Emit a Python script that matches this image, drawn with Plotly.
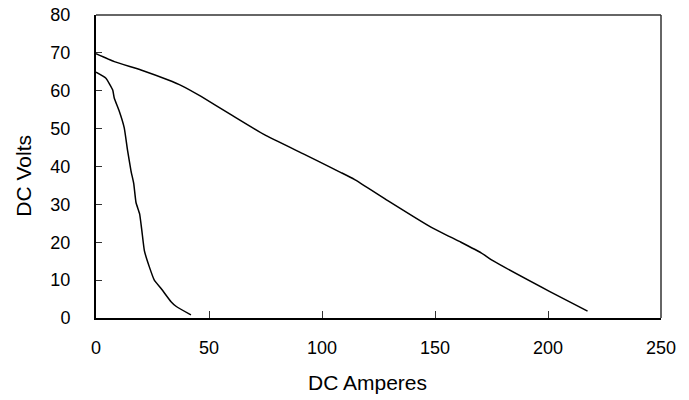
import plotly.graph_objects as go

# Curva de descarga larga
amps_long = [0, 8.1, 19.9, 31.7, 38.0, 46.5, 59.7, 74.5, 92.2, 104, 108.4, 114.3,
             129.1, 148.2, 161.5, 170.4, 176, 200.4, 217.5]
volts_long = [69.8, 67.7, 65.5, 62.9, 61.3, 58.5, 53.7, 48.4, 43.2, 39.7, 38.4, 36.6,
              31.0, 24.0, 20.0, 17.2, 15.0, 7.1, 1.8]

# Curva de descarga corta
amps_short = [0, 4.4, 7.4, 8.1, 10.3, 12.5, 14.0, 15.5, 16.7, 17.7, 19.3, 20.3, 21.4,
              23.6, 25.8, 28.8, 33.2, 35.4, 42.0]
volts_short = [64.9, 63.3, 60.2, 58.0, 54.6, 50.2, 44.1, 38.8, 35.5, 30.5, 27.5, 23.0, 17.8,
               13.5, 10.0, 7.8, 4.3, 3.1, 0.8]

x_ticks = [0, 50, 100, 150, 200, 250]
y_ticks = [0, 10, 20, 30, 40, 50, 60, 70, 80]

fig = go.Figure()
fig.add_trace(go.Scatter(x=amps_long, y=volts_long, mode="lines",
                         line=dict(color="black", width=1.5, shape="spline", smoothing=0.4)))
fig.add_trace(go.Scatter(x=amps_short, y=volts_short, mode="lines",
                         line=dict(color="black", width=1.5, shape="spline", smoothing=0.4)))

font = "Liberation Sans, Arial, Helvetica, sans-serif"

# la pagina tiene 8px de margen en el body, se compensa aqui
fig.update_layout(
    width=681, height=392,
    margin=dict(l=88, r=28, t=7, b=82),
    paper_bgcolor="white", plot_bgcolor="white",
    showlegend=False,
    font=dict(family=font, size=18, color="black"),
    xaxis=dict(
        range=[0, 250], tickvals=x_ticks, showgrid=False, zeroline=False,
        showline=True, linecolor="black", linewidth=2,
        ticks="inside", ticklen=7, tickwidth=1, tickcolor="#333",
        ticklabelstandoff=12, automargin=False, ticklabeloverflow="allow",
    ),
    yaxis=dict(
        range=[0, 80], tickvals=y_ticks, showgrid=False, zeroline=False,
        showline=True, linecolor="black", linewidth=2,
        ticks="inside", ticklen=6, tickwidth=1, tickcolor="#333",
        ticklabelstandoff=20, automargin=False, ticklabeloverflow="allow",
    ),
    annotations=[
        dict(text="DC Amperes", xref="paper", yref="paper", x=0.48, y=-0.214,
             showarrow=False, font=dict(size=21), xanchor="center", yanchor="middle"),
        dict(text="DC Volts", xref="paper", yref="paper", x=-0.129, y=0.47,
             showarrow=False, font=dict(size=21), textangle=-90,
             xanchor="center", yanchor="middle"),
    ],
    shapes=[
        dict(type="line", xref="paper", yref="paper", x0=0, x1=1, y0=1, y1=1,
             line=dict(color="#333", width=1.5)),
        dict(type="line", xref="paper", yref="paper", x0=1, x1=1, y0=0, y1=1,
             line=dict(color="#333", width=1.5)),
        dict(type="line", xref="paper", yref="paper", x0=1.046, x1=1.046, y0=-0.3, y1=1.05,
             line=dict(color="#444", width=1.5)),
    ],
)

fig.write_html("out.html")
